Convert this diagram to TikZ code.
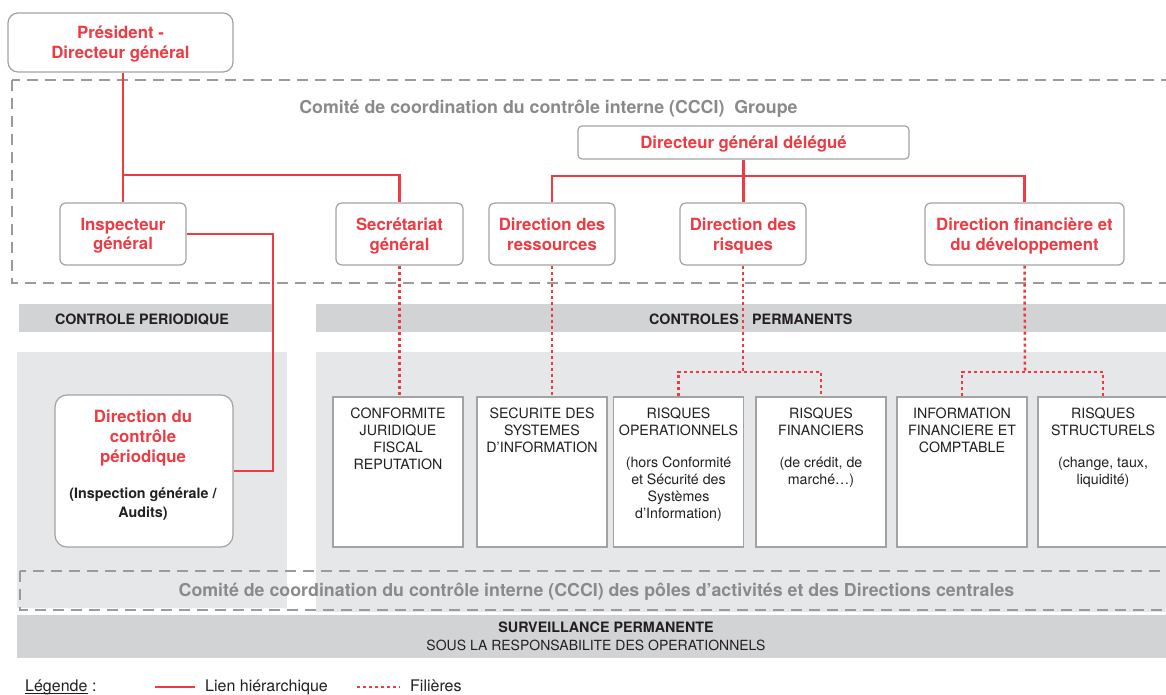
\documentclass[tikz,border=0pt]{standalone}
\usepackage{fontspec}
\usetikzlibrary{calc}
\setmainfont{TeX Gyre Heros}
\definecolor{rd}{HTML}{EE3B43}
\definecolor{gtxt}{HTML}{8A8A8A}
\definecolor{bord}{HTML}{A3A3A3}
\definecolor{barg}{HTML}{D2D3D5}
\definecolor{pang}{HTML}{E6E7E9}
\definecolor{dashg}{HTML}{9B9B9B}
\definecolor{ink}{HTML}{231F20}
\begin{document}
\begin{tikzpicture}[x=1pt,y=-1pt,
 redbox/.style={draw=bord, line width=1.2pt, fill=white, rounded corners=6pt, align=center, text=rd, font=\fontsize{16.8}{19.5}\selectfont\bfseries, inner sep=0pt, text depth=0pt},
 subbox/.style={draw=bord, line width=1.2pt, fill=white, minimum width=130pt, minimum height=150pt, inner sep=0pt},
 subtxt/.style={anchor=north, align=center, text=ink, font=\fontsize{14.2}{17}\selectfont, inner sep=0pt},
 hier/.style={draw=rd, line width=2.5pt},
 fil/.style={draw=rd, line width=2.5pt, dash pattern=on 3pt off 3pt},
 grpdash/.style={draw=dashg, line width=2.2pt, dash pattern=on 11pt off 7pt},
 bartxt/.style={text=ink, font=\fontsize{14.3}{17}\selectfont\bfseries, inner sep=0pt},
 cccitxt/.style={text=gtxt, font=\fontsize{17.8}{20}\selectfont\bfseries, inner sep=0pt},
 legtxt/.style={text=ink, font=\fontsize{16}{19}\selectfont, inner sep=0pt},
]
\clip (0,0) rectangle (1166,695);
\fill[white] (0,0) rectangle (1166,695);
% panels and bars
\fill[pang] (17,352) rectangle (287,608);
\fill[pang] (316,352) rectangle (1180,612);
\fill[barg] (19,304) rectangle (273,332);
\fill[barg] (316,304) rectangle (1180,332);
\fill[barg] (17,615) rectangle (1180,658);
\draw[grpdash] (12,80) rectangle (1190,283);
\draw[grpdash] (20,571) rectangle (1190,610);
% texts on background
\node[cccitxt, anchor=base] (ccg) at (548.5,114) {Comité de coordination du contrôle interne (CCCI)\ \ Groupe};
\node[cccitxt, anchor=base] (ccp) at (596.5,596.5) {Comité de coordination du contrôle interne (CCCI) des pôles d’activités et des Directions centrales};
\node[bartxt, anchor=base] (cpt) at (142,324) {CONTROLE PERIODIQUE};
\node[bartxt, anchor=base east] (cpa) at (739,324) {CONTROLES};
\node[bartxt, anchor=base west] (cpb) at (752,324) {PERMANENTS};
\node[bartxt, anchor=base] (sv1) at (606,632) {SURVEILLANCE PERMANENTE};
\node[legtxt, font=\fontsize{14}{17}\selectfont, anchor=base] (sv2) at (596,650) {SOUS LA RESPONSABILITE DES OPERATIONNELS};
% top boxes
\node[redbox, rounded corners=10pt, minimum width=225pt, minimum height=59pt, font=\fontsize{16.8}{20}\selectfont\bfseries] (pdg) at (120.5,42.5) {Président -\\Directeur général};
\node[redbox, minimum width=126pt, minimum height=62pt] (insp) at (123,234) {Inspecteur\\général};
\node[redbox, minimum width=127pt, minimum height=62pt] (sec) at (399.5,234) {Secrétariat\\général};
\node[redbox, minimum width=126pt, minimum height=62pt] (dres) at (552,234) {Direction des\\ressources};
\node[redbox, minimum width=126pt, minimum height=62pt] (dris) at (743,234) {Direction des\\risques};
\node[redbox, minimum width=199pt, minimum height=62pt] (dfin) at (1024.5,234) {Direction financière et\\du développement};
\node[redbox, rounded corners=4pt, minimum width=331pt, minimum height=33pt] (dgd) at (743.5,142.5) {Directeur général délégué};
\node[redbox, rounded corners=12pt, minimum width=178pt, minimum height=152pt] (dcp) at (144,471) {};
\node[anchor=north, align=center, text=rd, font=\fontsize{16.8}{20}\selectfont\bfseries, inner sep=0pt] (dcpt) at (143,408) {\strut Direction du\\contrôle\\périodique};
\node[anchor=north, align=center, text=ink, font=\fontsize{14.3}{19}\selectfont\bfseries, inner sep=0pt] (dcps) at (143,484.7) {\strut(Inspection générale /\\Audits)};
% sub boxes
\node[subbox] (conf) at (398,472) {};
\node[subbox] (secu) at (542,472) {};
\node[subbox] (rop) at (678.5,472) {};
\node[subbox] (rfin) at (821,472) {};
\node[subbox] (ifc) at (962,472) {};
\node[subbox] (rstr) at (1103,472) {};
\node[subtxt] (conft) at (398,406) {\strut CONFORMITE\\JURIDIQUE\\FISCAL\\REPUTATION};
\node[subtxt] (secut) at (542,406) {\strut SECURITE DES\\SYSTEMES\\D’INFORMATION};
\node[subtxt] (ropt) at (678.5,406) {\strut RISQUES\\OPERATIONNELS\\[15pt](hors Conformité\\et Sécurité des\\Systèmes\\d’Information)};
\node[subtxt] (rfint) at (821,406) {\strut RISQUES\\FINANCIERS\\[15pt](de crédit, de\\marché…)};
\node[subtxt] (ifct) at (962,406) {\strut INFORMATION\\FINANCIERE ET\\COMPTABLE};
\node[subtxt] (rstrt) at (1103,406) {\strut RISQUES\\STRUCTURELS\\[15pt](change, taux,\\liquidité)};
% hierarchical links
\coordinate (j1) at (123,175);
\draw[hier] (pdg.south -| j1) -- (insp.north);
\draw[hier] (j1) -| (sec.north);
\coordinate (k1) at (273,471);
\draw[hier] (insp.east) -| (k1) -- (dcp.east);
\coordinate (j2) at (743,176);
\draw[hier] (dgd.south) -- (dgd.south |- dris.north);
\draw[hier] (dres.north) |- (j2) -| (dfin.north);
% filieres
\draw[fil] (sec.south) -- (sec.south |- conf.north);
\draw[fil] (dres.south) -- (dres.south |- secu.north);
\coordinate (j3) at (743,372);
\draw[fil] (dris.south) -- (j3);
\draw[fil] (rop.north) |- (j3) -| (rfin.north);
\coordinate (j4) at (1025,372);
\draw[fil] (dfin.south) -- (j4);
\draw[fil] (ifc.north) |- (j4) -| (rstr.north);
% legend
\node[legtxt, anchor=base west] (leg) at (25,691) {Légende};
\node[legtxt, anchor=base west] (legc) at (92,691) {:};
\draw[ink, line width=1.2pt] ($(leg.base west)+(0,2.2)$) -- ($(leg.base east)+(0,2.2)$);
\coordinate (l1a) at (155,687);
\coordinate (l1b) at (195,687);
\draw[hier] (l1a) -- (l1b);
\node[legtxt, anchor=base west] (leg1) at (205,691) {Lien hiérarchique};
\coordinate (l2a) at (357,687);
\coordinate (l2b) at (400,687);
\draw[fil] (l2a) -- (l2b);
\node[legtxt, anchor=base west] (leg2) at (410,691) {Filières};
\end{tikzpicture}
\end{document}
